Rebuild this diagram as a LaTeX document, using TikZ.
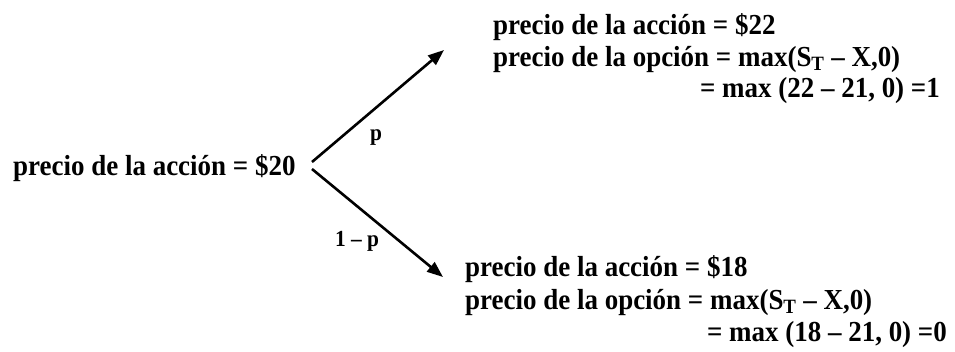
\documentclass[tikz,border=0pt]{standalone}
\usepackage{fontspec}
\setmainfont{Liberation Serif}
\newfontfamily\narrowfont[FakeStretch=0.93]{Liberation Serif}
\usetikzlibrary{arrows.meta}
\begin{document}
\begin{tikzpicture}[x=1pt,y=-1pt,
  txt/.style={inner sep=0pt,anchor=base west,font=\narrowfont\fontsize{29}{33}\selectfont\bfseries},
  txtr/.style={txt,anchor=base east},
  lbl/.style={inner sep=0pt,font=\narrowfont\fontsize{23}{26}\selectfont\bfseries},
  branch/.style={line width=2.6pt,-{Triangle[length=16pt,width=12pt]}}]
\useasboundingbox (0,0) rectangle (955,351);
% root
\node[txt] (s0) at (13,175) {precio de la acción = \$20};
% upper
\node[txt] (u1) at (493,34) {precio de la acción = \$22};
\node[txt] (u2) at (493,66) {precio de la opción = max(S\textsubscript{T} – X,0)};
\node[txtr] (u3) at (940,97) {= max (22 – 21, 0) =1};
% lower
\node[txt] (d1) at (465,276) {precio de la acción = \$18};
\node[txt] (d2) at (465,309) {precio de la opción = max(S\textsubscript{T} – X,0)};
\node[txtr] (d3) at (947,341) {= max (18 – 21, 0) =0};
% connectors
\coordinate (a0) at (312,162);
\coordinate (a1) at (444,50);
\coordinate (b0) at (312,169);
\coordinate (b1) at (443,277);
\draw[branch] (a0) -- (a1);
\draw[branch] (b0) -- (b1);
\node[lbl] (p) at (376,138) {p};
\node[lbl] (q) at (357,241) {1 – p};
\end{tikzpicture}
\end{document}
